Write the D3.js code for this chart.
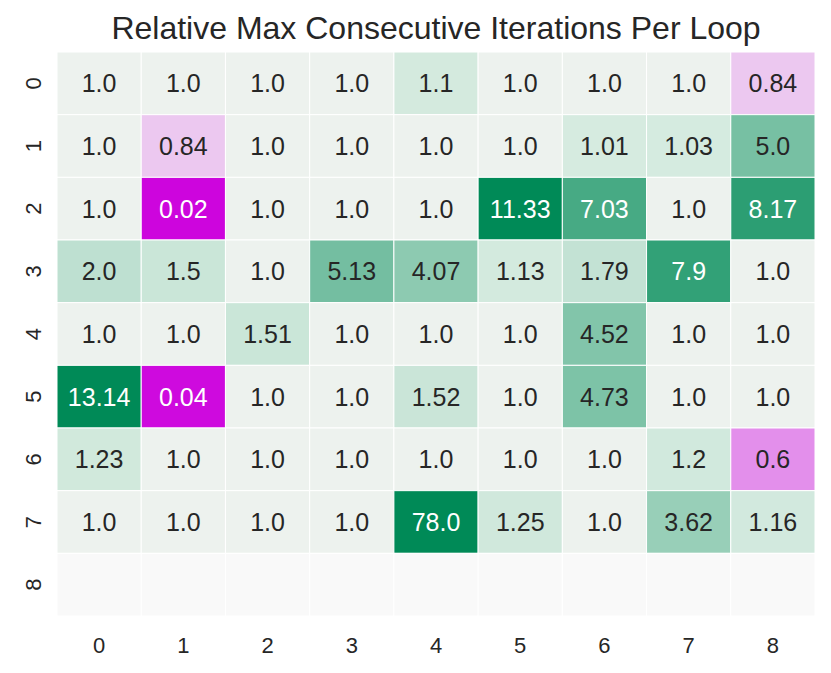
<!DOCTYPE html>
<html>
<head>
<meta charset="utf-8">
<script src="https://cdn.jsdelivr.net/npm/d3@7"></script>
<style>
  html, body { margin: 0; padding: 0; background: #fff; }
  svg { display: block; font-family: "Liberation Sans", Arial, sans-serif; }
</style>
</head>
<body>
<svg id="chart" width="831" height="673"></svg>
<script>
// heatmap data: rows 0..8, cols 0..8 (row 8 is empty)
const rowLabels = ["0", "1", "2", "3", "4", "5", "6", "7", "8"];
const colLabels = ["0", "1", "2", "3", "4", "5", "6", "7", "8"];

const row0 = [1.0, 1.0, 1.0, 1.0, 1.1, 1.0, 1.0, 1.0, 0.84];
const row1 = [1.0, 0.84, 1.0, 1.0, 1.0, 1.0, 1.01, 1.03, 5.0];
const row2 = [1.0, 0.02, 1.0, 1.0, 1.0, 11.33, 7.03, 1.0, 8.17];
const row3 = [2.0, 1.5, 1.0, 5.13, 4.07, 1.13, 1.79, 7.9, 1.0];
const row4 = [1.0, 1.0, 1.51, 1.0, 1.0, 1.0, 4.52, 1.0, 1.0];
const row5 = [13.14, 0.04, 1.0, 1.0, 1.52, 1.0, 4.73, 1.0, 1.0];
const row6 = [1.23, 1.0, 1.0, 1.0, 1.0, 1.0, 1.0, 1.2, 0.6];
const row7 = [1.0, 1.0, 1.0, 1.0, 78.0, 1.25, 1.0, 3.62, 1.16];
const row8 = [null, null, null, null, null, null, null, null, null];
const values = [row0, row1, row2, row3, row4, row5, row6, row7, row8];

const title = "Relative Max Consecutive Iterations Per Loop";

const svg = d3.select("#chart");

const box = {left: 57, right: 815, top: 52, bottom: 616};

const x = d3.scaleBand().domain(colLabels).range([box.left, box.right]);
const y = d3.scaleBand().domain(rowLabels).range([box.top, box.bottom]);

// diverging around 1.0
const neutral = "#edf2ee";
const lowColor = d3.scaleLinear().domain([0, 1]).range(["#cc00dd", "#f2eef4"]).clamp(true);
const highColor = d3.scaleLinear().domain([1, 10]).range(["#d6ebe0", "#008a57"]).clamp(true);

function fill(v) {
    if (v === null) return "#f9f9f9";
    if (v === 1) return neutral;
    return v < 1 ? lowColor(v) : highColor(v);
}

function luminance(c) {
    const rgb = d3.rgb(c);
    const ch = [rgb.r, rgb.g, rgb.b].map(u => {
        u = u / 255;
        return u <= 0.03928 ? u / 12.92 : Math.pow((u + 0.055) / 1.055, 2.4);
    });
    return 0.2126 * ch[0] + 0.7152 * ch[1] + 0.0722 * ch[2];
}

const cells = [];
values.forEach((row, r) => row.forEach((v, c) => cells.push({r: rowLabels[r], c: colLabels[c], v: v})));

svg.append("g")
    .selectAll("rect")
    .data(cells)
    .enter()
    .append("rect")
    .attr("x", d => x(d.c))
    .attr("y", d => y(d.r))
    .attr("width", x.bandwidth())
    .attr("height", y.bandwidth())
    .attr("fill", d => fill(d.v))
    .attr("stroke", "#ffffff")
    .attr("stroke-width", 1);

svg.append("g")
    .selectAll("text")
    .data(cells.filter(d => d.v !== null))
    .enter()
    .append("text")
    .attr("x", d => x(d.c) + x.bandwidth() / 2)
    .attr("y", d => y(d.r) + y.bandwidth() / 2)
    .attr("dy", "0.36em")
    .attr("text-anchor", "middle")
    .attr("fill", d => luminance(fill(d.v)) > 0.408 ? "#262626" : "#ffffff")
    .style("font-size", "25px")
    .text(d => Number.isInteger(d.v) ? d.v.toFixed(1) : String(d.v));

// axes
const xAxis = svg.append("g")
    .attr("transform", `translate(0,${box.bottom})`)
    .call(d3.axisBottom(x).tickSize(0).tickPadding(21));
xAxis.select(".domain").remove();
xAxis.selectAll("text")
    .attr("fill", "#262626")
    .style("font-size", "22px")
    .style("font-family", "Liberation Sans, Arial, sans-serif");

const yAxis = svg.append("g")
    .attr("transform", `translate(${box.left},0)`)
    .call(d3.axisLeft(y).tickSize(0));
yAxis.select(".domain").remove();
yAxis.selectAll("text")
    .attr("fill", "#262626")
    .attr("x", 0)
    .attr("text-anchor", "middle")
    .attr("transform", "translate(-24,0) rotate(-90)")
    .attr("dy", "0.36em")
    .style("font-size", "22px")
    .style("font-family", "Liberation Sans, Arial, sans-serif");

svg.append("text")
    .attr("x", (box.left + box.right) / 2)
    .attr("y", 39)
    .attr("text-anchor", "middle")
    .attr("fill", "#262626")
    .style("font-size", "32px")
    .text(title);
</script>
</body>
</html>
